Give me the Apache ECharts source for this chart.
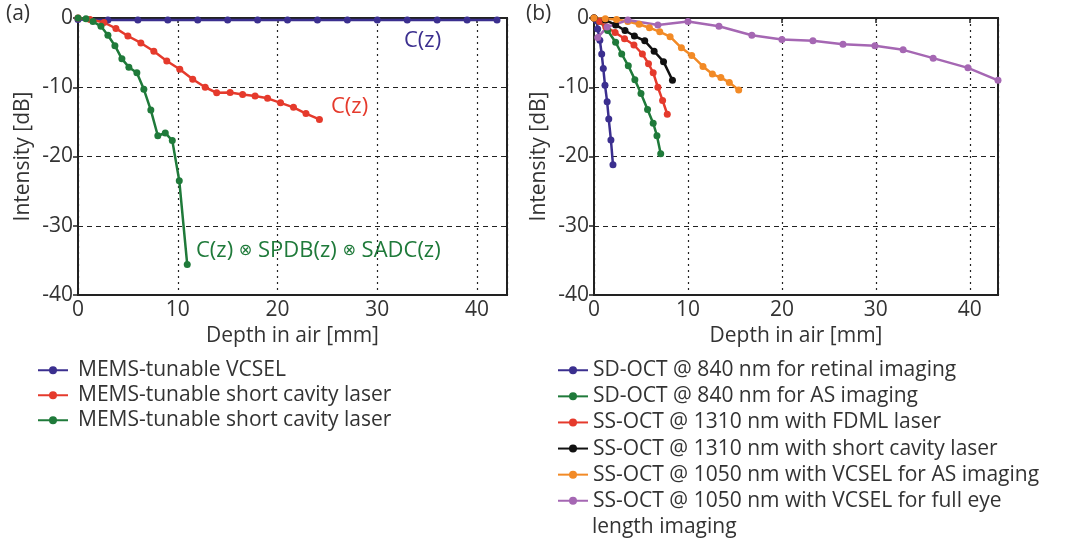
<!DOCTYPE html>
<html lang="en">
<head>
    <meta charset="UTF-8">
    <title>OCT sensitivity roll-off</title>
    <script src="https://cdn.jsdelivr.net/npm/echarts@6/dist/echarts.min.js"></script>
    <style>
        body { margin: 0; background: #fff; }
        #chart { width: 1076px; height: 542px; }
    </style>
</head>
<body>
<div id="chart"></div>
<script>
    // depth [mm], intensity [dB]
    // panel (a)
    const vcselA = [[0,-0.2],[3,-0.3],[6,-0.3],[9,-0.3],[12,-0.3],[15,-0.3],[18,-0.3],[21,-0.3],[24,-0.3],[27,-0.3],[30,-0.3],[33,-0.3],[36,-0.3],[39,-0.3],[42,-0.3]];
    const shortCavA = [[0,0],[1.2,-0.2],[2.6,-0.65],[3.8,-1.5],[5.0,-2.6],[6.3,-3.6],[7.6,-4.8],[8.9,-6.2],[10.2,-7.4],[11.5,-8.85],[12.75,-10.0],[13.9,-10.8],[15.25,-10.75],[16.5,-11.05],[17.75,-11.25],[19.0,-11.6],[20.3,-12.25],[21.6,-12.9],[22.85,-13.8],[24.2,-14.65]];
    const shortCavSysA = [[0,0],[0.8,-0.1],[1.5,-0.5],[2.3,-1.2],[3.0,-2.5],[3.7,-4.0],[4.4,-5.9],[5.1,-7.1],[5.9,-7.9],[6.6,-10.3],[7.3,-13.3],[8.0,-17.0],[8.75,-16.6],[9.45,-17.7],[10.15,-23.5],[10.95,-35.6]];

    // panel (b)
    const retinal = [[0,0],[0.28,-0.4],[0.39,-1.6],[0.62,-3.2],[0.82,-5.2],[0.99,-7.3],[1.17,-9.7],[1.4,-12.1],[1.57,-14.6],[1.8,-17.6],[2.02,-21.2]];
    const asSD = [[0,0],[0.6,-0.5],[1.45,-1.8],[2.3,-3.5],[2.95,-5.2],[3.65,-6.9],[4.35,-8.9],[5.0,-10.9],[5.7,-13.2],[6.3,-15.2],[6.7,-17.0],[7.1,-19.6]];
    const fdml = [[0,0],[0.6,-0.5],[1.25,-1.25],[2.25,-2.1],[3.25,-3.0],[4.25,-3.9],[5.15,-5.2],[5.8,-6.6],[6.3,-7.9],[6.8,-10.0],[7.3,-11.9],[7.8,-13.9]];
    const shortCav = [[0,0],[1.2,-0.3],[2.3,-1.0],[3.3,-1.8],[4.3,-2.6],[5.4,-3.3],[6.4,-4.8],[7.4,-6.3],[8.35,-9.0]];
    const vcselAS = [[0,0],[1.2,-0.1],[2.4,-0.2],[3.6,-0.5],[4.8,-0.9],[5.9,-1.4],[7.0,-2.0],[8.1,-2.7],[9.3,-4.3],[10.4,-5.4],[11.6,-7.0],[12.6,-8.1],[13.5,-8.6],[14.4,-9.3],[15.4,-10.4]];
    const fullEye = [[0.4,-2.8],[1.4,-1.3],[3.6,-0.3],[6.8,-1.0],[10.0,-0.5],[13.3,-1.2],[16.8,-2.5],[20.0,-3.1],[23.3,-3.3],[26.5,-3.8],[29.9,-4.0],[32.9,-4.6],[36.1,-5.8],[39.8,-7.2],[43.0,-9.0]];

    const namesA = ['MEMS-tunable VCSEL', 'MEMS-tunable short cavity laser', 'MEMS-tunable short cavity laser '];
    const namesB = ['SD-OCT @ 840 nm for retinal imaging', 'SD-OCT @ 840 nm for AS imaging', 'SS-OCT @ 1310 nm with FDML laser',
        'SS-OCT @ 1310 nm with short cavity laser', 'SS-OCT @ 1050 nm with VCSEL for AS imaging', 'SS-OCT @ 1050 nm with VCSEL for full eye'];

    const FONT = 'Open Sans';
    const TXT = '#333';
    const FS = 21;

    function xAxisFor(i) {
        return {
            gridIndex: i, type: 'value', min: 0, max: 43, interval: 10,
            name: 'Depth in air [mm]', nameLocation: 'middle', nameGap: 31,
            nameTextStyle: { fontFamily: FONT, fontSize: FS, color: TXT },
            axisLine: { lineStyle: { color: '#222', width: 2 } },
            axisTick: { length: 5, lineStyle: { color: '#222', width: 1.5 } },
            axisLabel: { fontFamily: FONT, fontSize: FS, color: TXT, margin: 5, showMaxLabel: false },
            splitLine: { show: true, lineStyle: { color: '#222', type: [2, 4], width: 1.2 } }
        };
    }
    function yAxisFor(i) {
        return {
            gridIndex: i, type: 'value', min: -40, max: 0, interval: 10,
            name: 'Intensity [dB]', nameLocation: 'middle', nameGap: 44,
            nameTextStyle: { fontFamily: FONT, fontSize: FS, color: TXT },
            axisLine: { lineStyle: { color: '#222', width: 2 } },
            axisTick: { length: 5, lineStyle: { color: '#222', width: 1.5 } },
            axisLabel: { fontFamily: FONT, fontSize: FS, color: TXT, margin: 5 },
            splitLine: { show: true, lineStyle: { color: '#222', type: [5, 4], width: 1.2 } }
        };
    }
    function line(name, data, color, idx) {
        return {
            name: name, type: 'line', data: data,
            xAxisIndex: idx, yAxisIndex: idx,
            symbol: 'circle', symbolSize: 7,
            itemStyle: { color: color },
            lineStyle: { color: color, width: 2.5 },
            animation: false
        };
    }

    const myChart = echarts.init(document.getElementById('chart'));
    const option = {
        backgroundColor: '#fff',
        grid: [
            { left: 78, top: 18, width: 429, height: 277, show: true, borderColor: '#222', borderWidth: 2 },
            { left: 594, top: 18, width: 404, height: 277, show: true, borderColor: '#222', borderWidth: 2 }
        ],
        xAxis: [xAxisFor(0), xAxisFor(1)],
        yAxis: [yAxisFor(0), yAxisFor(1)],
        legend: [
            { data: namesA, orient: 'vertical', left: 37, top: 359, padding: 0, itemWidth: 30, itemHeight: 10, itemGap: 2.5,
              textStyle: { fontFamily: FONT, fontSize: FS, color: TXT, lineHeight: 22.5, padding: [0, 0, 0, 5] } },
            { data: namesB, orient: 'vertical', left: 557, top: 359, padding: 0, itemWidth: 30, itemHeight: 10, itemGap: 3.6,
              textStyle: { fontFamily: FONT, fontSize: FS, color: TXT, lineHeight: 22.5 } }
        ],
        graphic: [
            { type: 'text', left: 6, top: 4, style: { text: '(a)', fontFamily: FONT, fontSize: FS, fill: TXT } },
            { type: 'text', left: 526, top: 4, style: { text: '(b)', fontFamily: FONT, fontSize: FS, fill: TXT } },
            { type: 'text', left: 404, top: 30, style: { text: 'C(z)', fontFamily: FONT, fontSize: 22, fill: '#3b2f8f' } },
            { type: 'text', left: 331, top: 96, style: { text: 'C(z)', fontFamily: FONT, fontSize: 22, fill: '#e53a2c' } },
            { type: 'text', left: 196, top: 240, style: {
                text: 'C(z) {s|⊗} SPDB(z) {s|⊗} SADC(z)', fontFamily: FONT, fontSize: 22, fill: '#1f7a3a',
                rich: { s: { fontFamily: 'DejaVu Sans', fontSize: 16, fill: '#1f7a3a' } } } },
            { type: 'text', left: 592, top: 517, style: { text: 'length imaging', fontFamily: FONT, fontSize: FS, fill: TXT } }
        ],
        series: [
            line(namesA[0], vcselA, '#3b2f8f', 0),
            line(namesA[1], shortCavA, '#e53a2c', 0),
            line(namesA[2], shortCavSysA, '#1f7a3a', 0),
            line(namesB[0], retinal, '#3b2f8f', 1),
            line(namesB[1], asSD, '#1f7a3a', 1),
            line(namesB[2], fdml, '#e53a2c', 1),
            line(namesB[3], shortCav, '#111111', 1),
            line(namesB[4], vcselAS, '#f28a26', 1),
            line(namesB[5], fullEye, '#a567b3', 1)
        ]
    };
    myChart.setOption(option);
</script>
</body>
</html>
